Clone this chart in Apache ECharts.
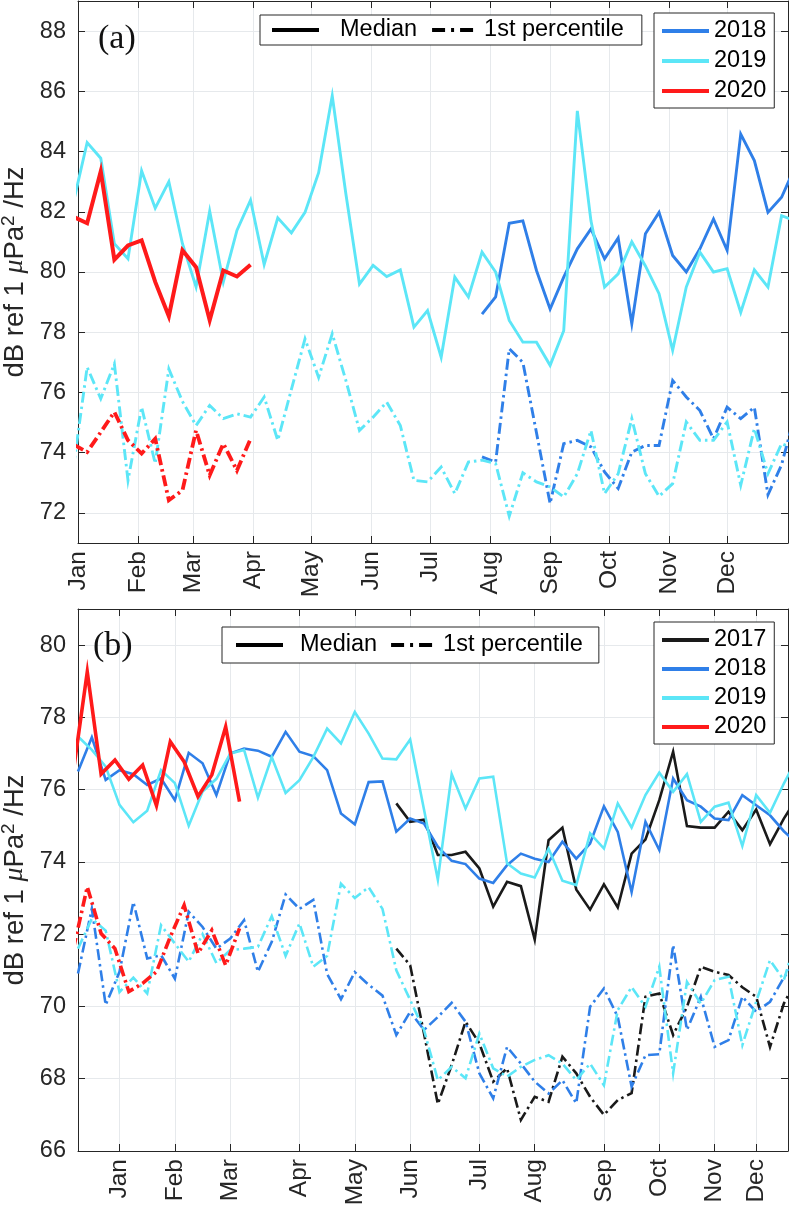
<!DOCTYPE html>
<html>
<head>
<meta charset="utf-8">
<script src="https://cdn.jsdelivr.net/npm/echarts@6/dist/echarts.min.js"></script>
<style>html,body{margin:0;padding:0;background:#fff}#c{width:789px;height:1209px}</style>
</head>
<body>
<div id="c"></div>
<script>
// ---------- categories / ticks ----------
const MONTHS = ['Jan','Feb','Mar','Apr','May','Jun','Jul','Aug','Sep','Oct','Nov','Dec'];
const A_MONTH_TICKS = [0,31,59,90,120,151,181,212,243,273,304,334]; // day of year
const B_MONTH_TICKS = [3,7,11,16,20,24,29,33,38,42,46,49];          // week number
const A_Y_TICKS = [72,74,76,78,80,82,84,86,88];
const B_Y_TICKS = [66,68,70,72,74,76,78,80];

// ---------- panel (a): weekly samples, x in days ----------
const A_FIRST_DAY = -2.3;   // day of sample 0
const A_STEP = 7;           // days between samples
const A_2018_FIRST = 30;    // sample index where 2018 begins

const a2018Median = [78.6,79.17,81.62,81.7,80.05,78.77,79.83,80.77,81.43,80.44,81.13,78.28,81.27,81.98,80.55,80.0,80.77,81.76,80.72,84.58,83.7,81.98,82.48,83.5];
const a2019Median = [82.33,84.3,83.78,80.94,80.44,83.36,82.12,83.0,80.94,79.5,82.02,79.67,81.38,82.39,80.25,81.8,81.3,81.98,83.3,85.85,82.6,79.6,80.22,79.85,80.07,78.17,78.72,77.17,79.83,79.17,80.66,80.0,78.39,77.67,77.67,76.9,78.05,85.35,81.7,79.5,79.94,81.0,80.2,79.28,77.4,79.5,80.66,80.0,80.11,78.66,80.07,79.5,81.87,81.7];
const a2020Median = [81.83,81.62,83.34,80.41,80.88,81.05,79.67,78.53,80.72,80.16,78.4,80.05,79.85,80.24];
const a2018P1 = [73.86,73.69,77.45,77.0,74.66,72.31,74.3,74.41,74.19,73.36,72.81,74.02,74.24,74.24,76.4,75.85,75.4,74.46,75.51,75.13,75.51,72.6,73.6,75.3];
const a2019P1 = [73.54,76.84,75.79,76.95,73.08,75.51,73.64,76.78,75.7,74.9,75.57,75.13,75.29,75.18,75.85,74.41,76.1,77.78,76.5,77.95,76.4,74.74,75.18,75.68,74.9,73.08,73.03,73.52,72.64,73.69,73.75,73.64,71.89,73.33,73.03,72.86,72.53,73.3,74.74,72.64,73.3,75.13,73.3,72.55,72.97,75.02,74.41,74.41,75.02,72.92,74.8,73.3,74.3,74.1];
const a2020P1 = [74.27,74.02,74.68,75.35,74.41,73.97,74.46,72.42,72.75,74.74,73.25,74.3,73.41,74.46];

// ---------- panel (b): weekly samples, x in weeks ----------
const B_2017_FIRST = 23;    // week where 2017 begins
const B_2020_FIRST = -0.33; // week of first 2020 sample

const b2017Median = [75.62,75.11,75.17,74.19,74.19,74.28,73.82,72.76,73.45,73.33,71.85,74.6,74.95,73.24,72.68,73.38,72.74,74.23,74.62,75.71,77.05,74.99,74.95,74.95,75.39,74.88,75.45,74.49,75.2,75.8];
const b2018Median = [76.5,77.45,76.27,76.54,76.43,76.13,76.31,75.71,77.02,76.73,75.85,77.0,77.14,77.08,76.91,77.6,77.05,76.93,76.54,75.34,75.04,76.21,76.23,74.84,75.2,75.06,74.42,74.03,73.94,73.54,73.42,73.91,74.23,74.09,74.0,74.56,74.09,74.51,75.54,74.83,73.17,75.11,74.33,76.31,75.71,75.53,75.2,75.16,75.85,75.57,75.29,74.85,74.5];
const b2019Median = [77.47,77.1,76.64,75.58,75.1,75.42,76.54,76.18,75.0,75.95,76.3,77.0,77.1,75.78,76.9,75.91,76.26,76.9,77.69,77.28,78.15,77.55,76.86,76.84,77.39,75.45,73.51,76.43,75.48,76.31,76.36,73.96,73.68,73.57,74.37,73.48,73.36,74.79,74.37,75.62,74.95,75.85,76.47,75.94,76.43,75.11,75.53,75.64,74.44,75.85,75.36,76.17,76.9];
const b2020Median = [76.52,79.26,76.43,76.82,76.29,76.68,75.56,77.33,76.77,75.81,76.41,77.74,75.67];
const b2017P1 = [71.6,71.14,69.25,67.3,68.38,69.58,68.98,67.92,68.29,66.86,67.5,67.36,68.61,68.15,67.5,67.0,67.41,67.6,70.27,70.36,69.21,69.99,71.1,70.96,70.87,70.53,70.27,68.88,70.08,70.8];
const b2018P1 = [70.91,72.71,70.04,70.96,72.89,71.33,71.42,70.77,72.62,72.2,71.6,71.88,72.39,70.96,71.79,73.1,72.7,72.95,70.9,70.2,70.95,70.6,70.3,69.21,69.85,69.35,69.71,70.1,69.58,68.15,67.46,68.88,68.42,67.92,67.59,67.96,67.32,69.99,70.5,69.71,67.78,68.65,68.68,71.7,69.35,70.27,68.88,69.07,70.27,69.85,70.13,70.8,71.3];
const b2019P1 = [71.6,72.43,72.1,70.4,70.8,70.36,72.25,71.74,71.24,72.0,71.2,71.56,71.6,71.65,72.5,71.4,72.3,71.1,71.4,73.4,73.0,73.3,72.7,71.0,70.18,69.35,67.96,68.33,68.01,69.25,68.29,68.06,68.33,68.52,68.65,68.42,67.96,68.42,67.82,69.9,70.54,69.99,71.1,68.15,70.68,70.08,70.73,70.82,68.93,70.13,71.28,70.73,72.0];
const b2020P1 = [71.6,73.31,72.02,71.6,70.41,70.64,70.96,71.93,72.8,71.47,72.11,71.14,72.16];

// ---------- styles ----------
const FONT = 'Liberation Sans, Arial, Helvetica, sans-serif';
const AX = '#262626';
const GRIDC = '#e6e9ec';
const C2017 = '#1a1a1a', C2018 = '#2f7fe8', C2019 = '#5ce6f7', C2020 = '#ff1a1a';
const DASHDOT = [11, 4, 2.5, 4];

function xy(values, x0, step) { return values.map((v, k) => [x0 + step * k, v]); }

function line(name, data, color, width, dashed, xi) {
  return {
    type: 'line', name, data, xAxisIndex: xi, yAxisIndex: xi,
    symbol: 'none', clip: true, silent: true, animation: false,
    lineStyle: { color, width, type: dashed ? DASHDOT : 'solid', cap: 'butt', join: 'miter' },
    itemStyle: { color }
  };
}

function xAxisPair(gi, min, max, ticks) {
  const bottom = {
    type: 'value', gridIndex: gi, min, max, position: 'bottom',
    axisLine: { show: true, lineStyle: { color: AX, width: 1 } },
    axisTick: { show: true, inside: true, length: 7, customValues: ticks, lineStyle: { color: AX } },
    axisLabel: { show: true, customValues: ticks, rotate: 90, margin: 8, fontSize: 24.5, fontFamily: FONT, color: AX,
      formatter: v => MONTHS[ticks.indexOf(v)] },
    splitLine: { show: true, lineStyle: { color: GRIDC, width: 1 } }
  };
  const top = {
    type: 'value', gridIndex: gi, min, max, position: 'top',
    axisLine: { show: true, onZero: false, lineStyle: { color: AX, width: 1 } },
    axisTick: { show: true, inside: true, length: 7, customValues: ticks, lineStyle: { color: AX } },
    axisLabel: { show: false }, splitLine: { show: false }
  };
  return [bottom, top];
}
const yName = '{t|dB ref 1 }{m|\u03bc}{t|Pa}{s|2}{t| /Hz}';
function yAxisPair(gi, min, max, ticks) {
  const left = {
    type: 'value', gridIndex: gi, min, max, position: 'left',
    name: yName, nameLocation: 'middle', nameGap: 41, nameRotate: 90,
    nameTextStyle: { color: AX, rich: {
      t: { fontSize: 27.5, fontFamily: FONT, color: AX, lineHeight: 32 },
      m: { fontSize: 28, fontFamily: 'Liberation Serif, DejaVu Serif, serif', fontStyle: 'italic', color: AX, lineHeight: 32 },
      s: { fontSize: 19, fontFamily: FONT, color: AX, lineHeight: 19, verticalAlign: 'top' }
    }},
    axisLine: { show: true, lineStyle: { color: AX, width: 1 } },
    axisTick: { show: true, inside: true, length: 7, customValues: ticks, lineStyle: { color: AX } },
    axisLabel: { show: true, customValues: ticks, margin: 12, fontSize: 23.5, fontFamily: FONT, color: AX },
    splitLine: { show: true, lineStyle: { color: GRIDC, width: 1 } }
  };
  const right = {
    type: 'value', gridIndex: gi, min, max, position: 'right',
    axisLine: { show: true, onZero: false, lineStyle: { color: AX, width: 1 } },
    axisTick: { show: true, inside: true, length: 7, customValues: ticks, lineStyle: { color: AX } },
    axisLabel: { show: false }, splitLine: { show: false }
  };
  return [left, right];
}

const legendCommon = {
  selectedMode: false, backgroundColor: '#fff', borderColor: AX, borderWidth: 1, borderRadius: 0,
  itemWidth: 47, itemHeight: 14, itemStyle: { opacity: 0 },
  lineStyle: { width: 4 },
  textStyle: { fontSize: 23.5, fontFamily: FONT, color: '#000', lineHeight: 24 }
};
const pctItem = { name: '1st percentile', lineStyle: { width: 4, type: [13, 6, 3, 6] } };

const option = {
  backgroundColor: '#fff',
  animation: false,
  title: [
    { text: '(a)', left: 93, top: 17, textStyle: { fontFamily: 'Liberation Serif, Times New Roman, serif', fontSize: 34, fontWeight: 'normal', color: '#111' } },
    { text: '(b)', left: 88, top: 624, textStyle: { fontFamily: 'Liberation Serif, Times New Roman, serif', fontSize: 34, fontWeight: 'normal', color: '#111' } }
  ],
  grid: [
    { left: 78, top: 1, width: 710, height: 542, outerBoundsMode: 'none', containLabel: false },
    { left: 78, top: 609, width: 710, height: 542, outerBoundsMode: 'none', containLabel: false }
  ],
  xAxis: [...xAxisPair(0, 0, 365, A_MONTH_TICKS), ...xAxisPair(1, 0, 51.3, B_MONTH_TICKS)],
  yAxis: [...yAxisPair(0, 71, 89, A_Y_TICKS), ...yAxisPair(1, 66, 81, B_Y_TICKS)],
  legend: [
    Object.assign({}, legendCommon, { orient: 'horizontal', left: 260, top: 15, padding: [3, 18, 3, 10], itemGap: 13,
      data: [{ name: 'Median', textStyle: { padding: [0, 0, 0, 16] } }, pctItem] }),
    Object.assign({}, legendCommon, { orient: 'vertical', left: 654, top: 13, padding: [6, 8, 5, 6], itemGap: 6,
      data: ['2018', '2019', '2020'] }),
    Object.assign({}, legendCommon, { orient: 'horizontal', left: 222, top: 627, padding: [6, 16, 6, 12], itemGap: 12,
      data: [{ name: 'Median', textStyle: { padding: [0, 0, 0, 12] } }, pctItem] }),
    Object.assign({}, legendCommon, { orient: 'vertical', left: 654, top: 622, padding: [6, 8, 5, 6], itemGap: 5,
      data: ['2017', '2018', '2019', '2020'] })
  ],
  series: [
    // panel (a) medians
    line('2018', xy(a2018Median, A_FIRST_DAY + A_STEP * A_2018_FIRST, A_STEP), C2018, 2.9, false, 0),
    line('2019', xy(a2019Median, A_FIRST_DAY, A_STEP), C2019, 2.9, false, 0),
    line('2020', xy(a2020Median, A_FIRST_DAY, A_STEP), C2020, 4, false, 0),
    // panel (a) 1st percentiles
    line('2018', xy(a2018P1, A_FIRST_DAY + A_STEP * A_2018_FIRST, A_STEP), C2018, 2.9, true, 0),
    line('2019', xy(a2019P1, A_FIRST_DAY, A_STEP), C2019, 2.9, true, 0),
    line('2020', xy(a2020P1, A_FIRST_DAY, A_STEP), C2020, 3.8, true, 0),
    // panel (b) medians
    line('2017', xy(b2017Median, B_2017_FIRST, 1), C2017, 2.6, false, 2),
    line('2018', xy(b2018Median, 0, 1), C2018, 2.6, false, 2),
    line('2019', xy(b2019Median, 0, 1), C2019, 2.6, false, 2),
    line('2020', xy(b2020Median, B_2020_FIRST, 1), C2020, 3.6, false, 2),
    // panel (b) 1st percentiles
    line('2017', xy(b2017P1, B_2017_FIRST, 1), C2017, 2.6, true, 2),
    line('2018', xy(b2018P1, 0, 1), C2018, 2.6, true, 2),
    line('2019', xy(b2019P1, 0, 1), C2019, 2.6, true, 2),
    line('2020', xy(b2020P1, B_2020_FIRST, 1), C2020, 3.6, true, 2),
    // legend-only style keys
    line('Median', [], '#000', 3, false, 0),
    line('1st percentile', [], '#000', 3, true, 0)
  ]
};
const chart = echarts.init(document.getElementById('c'), null, { renderer: 'canvas' });
chart.setOption(option);
</script>
</body>
</html>
